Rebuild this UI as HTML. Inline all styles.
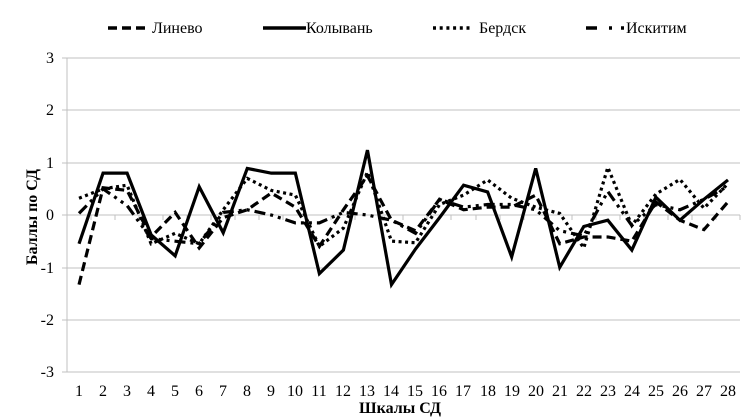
<!DOCTYPE html>
<html><head><meta charset="utf-8"><style>
html,body{margin:0;padding:0;background:#fff;}
svg{display:block;}
text{font-family:"Liberation Serif","Noto Serif CJK SC",serif;fill:#000;}
</style></head><body>
<svg width="752" height="420" viewBox="0 0 752 420" xmlns="http://www.w3.org/2000/svg">
<rect width="752" height="420" fill="#fff"/>
<!-- gridlines -->
<g stroke="#c0c0c0" stroke-width="1" shape-rendering="crispEdges">
<line x1="62" y1="58" x2="740" y2="58"/>
<line x1="62" y1="110" x2="740" y2="110"/>
<line x1="62" y1="163" x2="740" y2="163"/>
<line x1="62" y1="215" x2="740" y2="215"/>
<line x1="62" y1="268" x2="740" y2="268"/>
<line x1="62" y1="320" x2="740" y2="320"/>
<line x1="62" y1="372" x2="740" y2="372"/>
<line x1="67" y1="58" x2="67" y2="372"/>
</g>
<!-- category ticks on zero axis -->
<g stroke="#c0c0c0" stroke-width="1" shape-rendering="crispEdges">
<line x1="91" y1="215" x2="91" y2="220"/><line x1="115" y1="215" x2="115" y2="220"/><line x1="139" y1="215" x2="139" y2="220"/><line x1="163" y1="215" x2="163" y2="220"/><line x1="187" y1="215" x2="187" y2="220"/><line x1="211" y1="215" x2="211" y2="220"/><line x1="235" y1="215" x2="235" y2="220"/><line x1="259" y1="215" x2="259" y2="220"/><line x1="283" y1="215" x2="283" y2="220"/><line x1="307" y1="215" x2="307" y2="220"/><line x1="331" y1="215" x2="331" y2="220"/><line x1="355" y1="215" x2="355" y2="220"/><line x1="379" y1="215" x2="379" y2="220"/><line x1="403" y1="215" x2="403" y2="220"/><line x1="427" y1="215" x2="427" y2="220"/><line x1="451" y1="215" x2="451" y2="220"/><line x1="476" y1="215" x2="476" y2="220"/><line x1="500" y1="215" x2="500" y2="220"/><line x1="524" y1="215" x2="524" y2="220"/><line x1="548" y1="215" x2="548" y2="220"/><line x1="572" y1="215" x2="572" y2="220"/><line x1="596" y1="215" x2="596" y2="220"/><line x1="620" y1="215" x2="620" y2="220"/><line x1="644" y1="215" x2="644" y2="220"/><line x1="668" y1="215" x2="668" y2="220"/><line x1="692" y1="215" x2="692" y2="220"/><line x1="716" y1="215" x2="716" y2="220"/><line x1="740" y1="215" x2="740" y2="220"/>
</g>
<!-- y tick labels -->
<g font-size="16" text-anchor="end">
<text x="54" y="63">3</text>
<text x="54" y="115">2</text>
<text x="54" y="168">1</text>
<text x="54" y="220">0</text>
<text x="54" y="273">-1</text>
<text x="54" y="325">-2</text>
<text x="54" y="377">-3</text>
</g>
<!-- x tick labels -->
<g font-size="16" text-anchor="middle">
<text x="79" y="396">1</text><text x="103" y="396">2</text><text x="127" y="396">3</text><text x="151" y="396">4</text><text x="175" y="396">5</text><text x="199" y="396">6</text><text x="223" y="396">7</text><text x="247" y="396">8</text><text x="271" y="396">9</text><text x="295" y="396">10</text><text x="319" y="396">11</text><text x="343" y="396">12</text><text x="367" y="396">13</text><text x="391" y="396">14</text><text x="415" y="396">15</text><text x="439" y="396">16</text><text x="463" y="396">17</text><text x="488" y="396">18</text><text x="512" y="396">19</text><text x="536" y="396">20</text><text x="560" y="396">21</text><text x="584" y="396">22</text><text x="608" y="396">23</text><text x="632" y="396">24</text><text x="656" y="396">25</text><text x="680" y="396">26</text><text x="704" y="396">27</text><text x="728" y="396">28</text>
</g>
<text x="400" y="413" font-size="16" font-weight="bold" text-anchor="middle">Шкалы СД</text>
<text transform="translate(37,217) rotate(-90)" font-size="16" font-weight="bold" text-anchor="middle">Баллы по СД</text>

<!-- series -->
<g transform="translate(67,215) scale(24.036,-52.33)" fill="none">
<!-- Искитим -->
<polyline vector-effect="non-scaling-stroke" stroke="#000" stroke-width="3.2" stroke-dasharray="11 5 3 5 3 5"
points="0.5,0.03 1.5,0.5 2.5,0.18 3.5,-0.45 4.5,-0.5 5.5,-0.55 6.5,0.05 7.5,0.1 8.5,0.0 9.5,-0.15 10.5,-0.15 11.5,0.05 12.5,0.0 13.5,-0.1 14.5,-0.35 15.5,0.3 16.5,0.15 17.5,0.2 18.5,0.2 19.5,0.1 20.5,-0.3 21.5,-0.4 22.5,0.45 23.5,-0.2 24.5,0.2 25.5,0.1 26.5,0.3 27.5,0.55"/>
<!-- Бердск -->
<polyline vector-effect="non-scaling-stroke" stroke="#000" stroke-width="3.2" stroke-dasharray="3 3.5"
points="0.5,0.32 1.5,0.5 2.5,0.57 3.5,-0.55 4.5,-0.35 5.5,-0.55 6.5,0.1 7.5,0.7 8.5,0.47 9.5,0.38 10.5,-0.6 11.5,-0.25 12.5,0.82 13.5,-0.5 14.5,-0.53 15.5,0.2 16.5,0.38 17.5,0.67 18.5,0.32 19.5,0.15 20.5,0.03 21.5,-0.63 22.5,0.91 23.5,-0.2 24.5,0.4 25.5,0.68 26.5,0.13 27.5,0.6"/>
<!-- Линево -->
<polyline vector-effect="non-scaling-stroke" stroke="#000" stroke-width="3.2" stroke-dasharray="9 5"
points="0.5,-1.33 1.5,0.52 2.5,0.47 3.5,-0.42 4.5,0.05 5.5,-0.63 6.5,-0.05 7.5,0.1 8.5,0.42 9.5,0.15 10.5,-0.6 11.5,0.1 12.5,0.75 13.5,-0.1 14.5,-0.3 15.5,0.3 16.5,0.1 17.5,0.15 18.5,0.15 19.5,0.38 20.5,-0.55 21.5,-0.42 22.5,-0.42 23.5,-0.5 24.5,0.25 25.5,-0.1 26.5,-0.28 27.5,0.25"/>
<!-- Колывань -->
<polyline vector-effect="non-scaling-stroke" stroke="#000" stroke-width="3.2" stroke-linejoin="miter"
points="0.5,-0.55 1.5,0.8 2.5,0.8 3.5,-0.38 4.5,-0.78 5.5,0.54 6.5,-0.34 7.5,0.89 8.5,0.8 9.5,0.8 10.5,-1.12 11.5,-0.67 12.5,1.24 13.5,-1.33 14.5,-0.65 15.5,-0.05 16.5,0.57 17.5,0.44 18.5,-0.8 19.5,0.89 20.5,-1.0 21.5,-0.22 22.5,-0.1 23.5,-0.67 24.5,0.34 25.5,-0.1 26.5,0.3 27.5,0.67"/>
</g>

<!-- legend -->
<g stroke="#000" stroke-width="3.5" fill="none">
<line x1="108" y1="28" x2="145" y2="28" stroke-dasharray="9 5"/>
<line x1="263" y1="28" x2="306" y2="28"/>
<line x1="433" y1="28" x2="472" y2="28" stroke-dasharray="3 3.7"/>
<line x1="586" y1="28" x2="597" y2="28"/>
<line x1="609" y1="28" x2="612" y2="28"/>
<line x1="621" y1="28" x2="624" y2="28"/>
</g>
<g font-size="16">
<text x="152" y="33">Линево</text>
<text x="306" y="33">Колывань</text>
<text x="479" y="33">Бердск</text>
<text x="626" y="33">Искитим</text>
</g>
</svg>
</body></html>
